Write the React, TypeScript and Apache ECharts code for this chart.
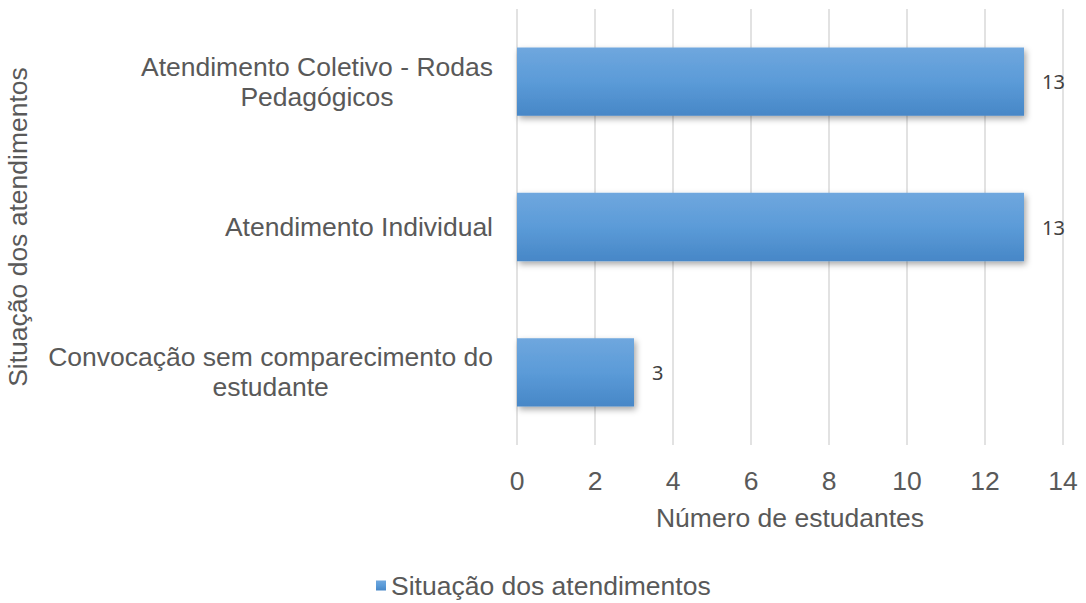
import React, { useEffect, useRef } from "react";
import * as echarts from "echarts";

const categoryLines: string[][] = [
  ["Convocação sem comparecimento do", "estudante"],
  ["Atendimento Individual"],
  ["Atendimento Coletivo - Rodas", "Pedagógicos"],
];
const categories = categoryLines.map((l) => l.join(" "));
const values = [3, 13, 13];
const seriesName = "Situação dos atendimentos";
const xAxisName = "Número de estudantes";
const yAxisName = "Situação dos atendimentos";

export default function App() {
  const ref = useRef<HTMLDivElement>(null);
  useEffect(() => {
    const chart = echarts.init(ref.current!, null, { renderer: "svg" });
    const font = "'Liberation Sans', Arial, sans-serif";
    const fs = 26.5;
    const barColor = new echarts.graphic.LinearGradient(0, 0, 0, 1, [
      { offset: 0, color: "#6fa7de" },
      { offset: 0.5, color: "#5b9bd8" },
      { offset: 1, color: "#4787c7" },
    ]);
    chart.setOption({
      animation: false,
      backgroundColor: "#ffffff",
      textStyle: { fontFamily: font },
      grid: {
        left: 517,
        right: 23,
        top: 9,
        bottom: 158,
        containLabel: false,
        outerBoundsMode: "none",
      },
      legend: {
        data: [seriesName],
        left: 371,
        top: 567,
        icon: "rect",
        itemWidth: 10,
        itemHeight: 10,
        itemGap: 6,
        textStyle: { fontSize: fs, color: "#595959", fontFamily: font, padding: [0, 0, 0, 0] },
      },
      xAxis: {
        type: "value",
        min: 0,
        max: 14,
        interval: 2,
        name: xAxisName,
        nameLocation: "middle",
        nameGap: 59,
        nameTextStyle: { fontSize: fs, color: "#595959", fontFamily: font },
        axisLine: { show: false },
        axisTick: { show: false },
        axisLabel: { fontSize: fs, color: "#595959", margin: 22, fontFamily: font },
        splitLine: { show: true, lineStyle: { color: "#d9d9d9", width: 1.5 } },
      },
      yAxis: {
        type: "category",
        data: categories,
        name: yAxisName,
        nameLocation: "middle",
        nameGap: 486,
        nameRotate: 90,
        nameTextStyle: { fontSize: fs, color: "#595959", fontFamily: font },
        axisLine: { show: false },
        axisTick: { show: false },
        axisLabel: {
          align: "right",
          margin: 24,
          formatter: (_v: string, idx: number) =>
            categoryLines[idx].map((l) => `{c|${l}}`).join("\n"),
          rich: {
            c: { align: "center", fontSize: fs, color: "#595959", fontFamily: font, lineHeight: 30 },
          },
        },
      },
      series: [
        {
          name: seriesName,
          type: "bar",
          data: values,
          barWidth: "47%",
          itemStyle: {
            color: barColor,
            shadowBlur: 6,
            shadowOffsetX: 2,
            shadowOffsetY: 3,
            shadowColor: "rgba(0,0,0,0.35)",
          },
          label: {
            show: true,
            position: "right",
            distance: 18,
            fontSize: 20,
            color: "#404040",
            fontFamily: "'Noto Sans', 'Open Sans', sans-serif",
          },
        },
      ],
    });
    return () => chart.dispose();
  }, []);
  return (
    <div
      ref={ref}
      style={{ position: "fixed", left: 0, top: 0, width: 1086, height: 603 }}
    />
  );
}
